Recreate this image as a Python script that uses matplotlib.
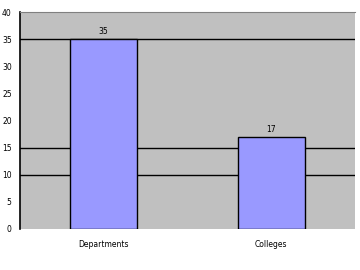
import matplotlib
matplotlib.use("Agg")
import matplotlib.pyplot as plt

categories = ["Departments", "Colleges"]
values = [35, 17]
yticks = [0, 5, 10, 15, 20, 25, 30, 35, 40]
grid_levels = [10, 15, 35]

fig = plt.figure(figsize=(3.6, 2.7), dpi=100)
ax = fig.add_axes([20 / 360, 41 / 270, 335 / 360, 217 / 270])
ax.set_facecolor("#c0c0c0")

for g in grid_levels:
    ax.axhline(g, color="black", lw=1.0, zorder=1)

x = range(len(categories))
bars = ax.bar(x, values, width=0.4, color="#9999ff", edgecolor="black", lw=1.0, zorder=2)
for b, v in zip(bars, values):
    ax.text(b.get_x() + b.get_width() / 2, v + 0.6, str(v), ha="center", va="bottom",
            fontsize=5.5, color="black")

ax.set_xlim(-0.5, 1.5)
ax.set_ylim(0, 40)
ax.set_yticks(yticks)
ax.set_yticklabels([str(t) for t in yticks], fontsize=5.5)
ax.set_xticks(list(x))
ax.set_xticklabels(categories, fontsize=5.5)
ax.tick_params(axis="x", length=0, pad=8)
ax.tick_params(axis="y", length=0, pad=6)

for s in ["right", "bottom"]:
    ax.spines[s].set_visible(False)
ax.spines["top"].set_color("#808080")
ax.spines["left"].set_color("black")
ax.spines["left"].set_linewidth(1.2)

fig.savefig("out.png", dpi=100)
